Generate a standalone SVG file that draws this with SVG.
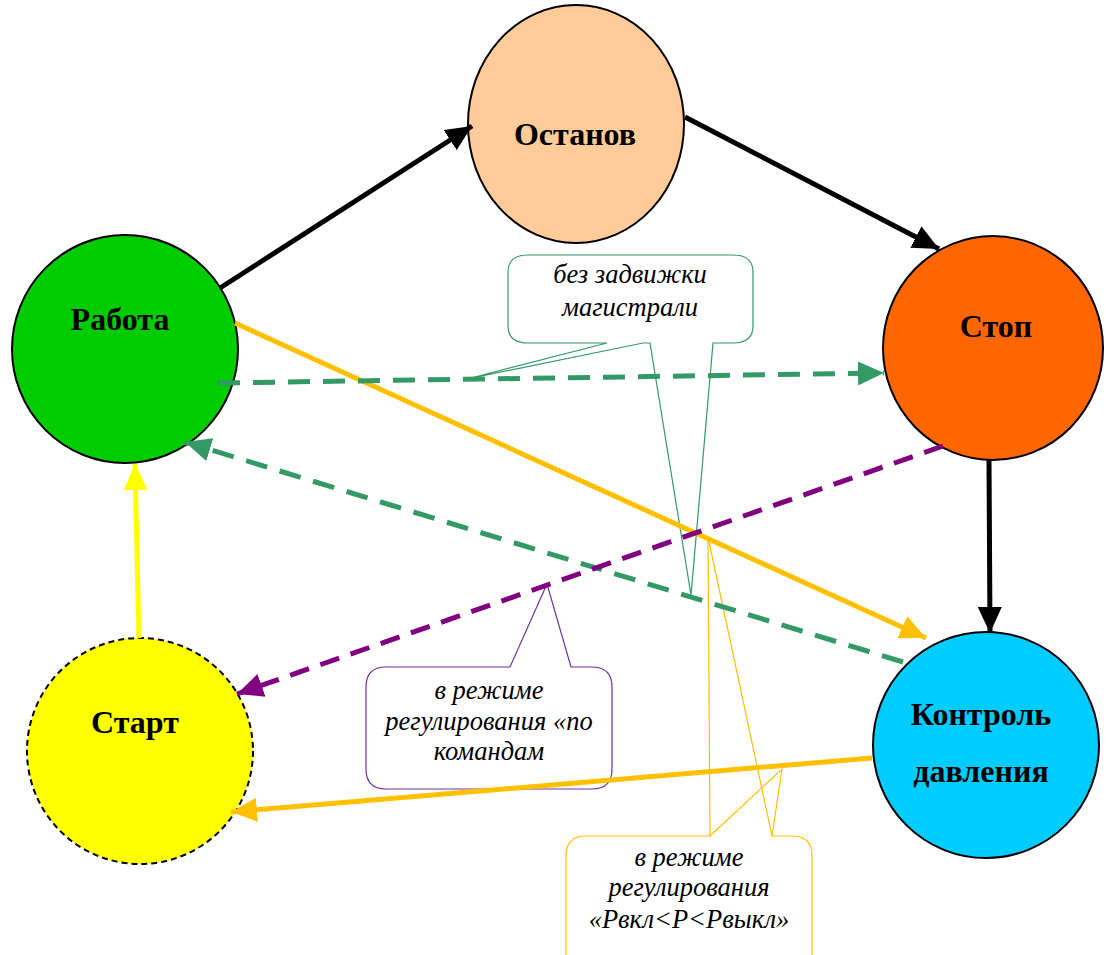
<svg xmlns="http://www.w3.org/2000/svg" width="1106" height="955" viewBox="0 0 1106 955">
<style>
.node{stroke:#000;stroke-width:2}
.lbl{font-family:"Liberation Serif","Times New Roman",serif;font-weight:bold;font-size:32px;fill:#000;text-anchor:middle}
.cl{font-family:"Liberation Serif","Times New Roman",serif;font-style:italic;font-size:26.5px;fill:#000;text-anchor:middle}
.co{fill:#fff;stroke-width:1.2;stroke-linejoin:miter}
.e{fill:none;stroke-width:5}
</style>
<defs>
<marker id="aB" markerUnits="userSpaceOnUse" markerWidth="26" markerHeight="24" refX="26" refY="12" orient="auto"><path d="M0,0L26,12L0,24z" fill="#000"/></marker>
<marker id="aO" markerUnits="userSpaceOnUse" markerWidth="26" markerHeight="24" refX="26" refY="12" orient="auto"><path d="M0,0L26,12L0,24z" fill="#FFC000"/></marker>
<marker id="aG" markerUnits="userSpaceOnUse" markerWidth="26" markerHeight="24" refX="26" refY="12" orient="auto"><path d="M0,0L26,12L0,24z" fill="#339966"/></marker>
<marker id="aP" markerUnits="userSpaceOnUse" markerWidth="26" markerHeight="24" refX="26" refY="12" orient="auto"><path d="M0,0L26,12L0,24z" fill="#800080"/></marker>
<marker id="aY" markerUnits="userSpaceOnUse" markerWidth="26" markerHeight="24" refX="26" refY="12" orient="auto"><path d="M0,0L26,12L0,24z" fill="#FFFF00"/></marker>
</defs>
<rect width="1106" height="955" fill="#fff"/>
<g id="node-ostanov"><ellipse class="node" cx="576" cy="124" rx="108" ry="119" fill="#FFCC99"/><text class="lbl" x="575" y="145">Останов</text></g>
<g id="node-rabota"><ellipse class="node" cx="125" cy="349" rx="113" ry="114" fill="#00CC00"/><text class="lbl" x="120" y="330">Работа</text></g>
<g id="node-stop"><ellipse class="node" cx="993" cy="348" rx="110" ry="112" fill="#FF6600"/><text class="lbl" x="996" y="337">Стоп</text></g>
<g id="node-start"><ellipse cx="140" cy="751" rx="113" ry="113" fill="#FFFF00" stroke="#000" stroke-width="2" stroke-dasharray="6 4"/><text class="lbl" x="135" y="733">Старт</text></g>
<g id="node-kontrol"><ellipse class="node" cx="986" cy="745" rx="113" ry="113" fill="#00CCFF"/><text class="lbl" x="981" y="725">Контроль</text><text class="lbl" x="981" y="782">давления</text></g>
<g id="callout-green">
<path class="co" stroke="#339966" d="M528,255H733Q753,255 753,272V326Q753,343 733,343H713L691,595L650,343H643L467,379L607,343H528Q508,343 508,326V272Q508,255 528,255Z"/>
<text class="cl" x="630" y="283">без задвижки</text><text class="cl" x="630" y="316">магистрали</text>
</g>
<g id="callout-purple">
<path class="co" stroke="#7030A0" d="M386,667H510L547,584L571,667H592Q612,667 612,687V769Q612,789 592,789H386Q366,789 366,769V687Q366,667 386,667Z"/>
<text class="cl" x="489" y="699">в режиме</text><text class="cl" x="489" y="730">регулирования «по</text><text class="cl" x="489" y="760">командам</text>
</g>
<g id="callout-orange">
<path class="co" stroke="#FFC000" d="M586,836H710L708,537L772,836H792Q812,836 812,856V965Q812,985 792,985H586Q566,985 566,965V856Q566,836 586,836Z"/>
<path fill="none" stroke="#FFC000" stroke-width="1.2" d="M710,836L782,769L772,836"/>
<text class="cl" x="689" y="866">в режиме</text><text class="cl" x="689" y="896">регулирования</text><text class="cl" x="689" y="928">«Рвкл&lt;Р&lt;Рвыкл»</text>
</g>
<g id="connectors">
<line class="e" stroke="#000" x1="220" y1="288" x2="472" y2="126" marker-end="url(#aB)"/>
<line class="e" stroke="#000" x1="685" y1="117" x2="939" y2="249" marker-end="url(#aB)"/>
<line class="e" stroke="#000" x1="989" y1="460" x2="990" y2="633" marker-end="url(#aB)"/>
<line class="e" stroke="#FFC000" x1="235" y1="323" x2="926" y2="638" marker-end="url(#aO)"/>
<line class="e" stroke="#339966" stroke-dasharray="22 13" x1="218" y1="383" x2="884" y2="373" marker-end="url(#aG)"/>
<line class="e" stroke="#339966" stroke-dasharray="22 13" x1="903" y1="662" x2="185" y2="442" marker-end="url(#aG)"/>
<line class="e" stroke="#800080" stroke-dasharray="20 12" x1="943" y1="446" x2="237" y2="694" marker-end="url(#aP)"/>
<line class="e" stroke="#FFC000" x1="872" y1="758" x2="231" y2="812" marker-end="url(#aO)"/>
<line class="e" stroke="#FFFF00" stroke-width="4" x1="139" y1="638" x2="135" y2="464" marker-end="url(#aY)"/>
</g>
</svg>
